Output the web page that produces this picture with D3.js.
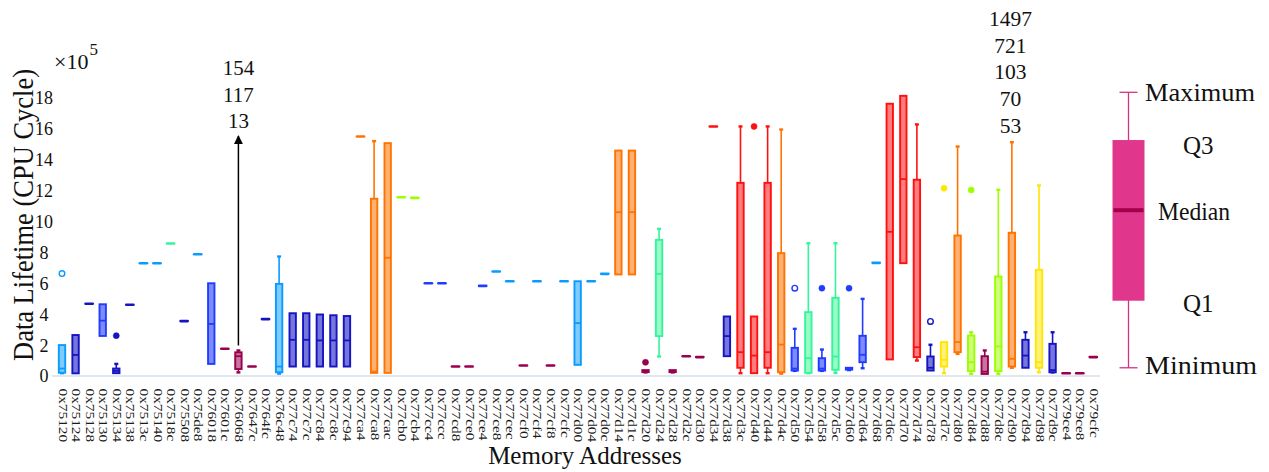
<!DOCTYPE html>
<html>
<head>
<meta charset="utf-8">
<script src="https://cdn.jsdelivr.net/npm/d3@7"></script>
<style>
  html, body { margin: 0; padding: 0; background: #ffffff; }
  svg { display: block; font-family: "Liberation Serif", "Times New Roman", serif; }
</style>
</head>
<body>
<svg id="chart" width="1269" height="472"></svg>
<script>
// Memory addresses (one box per address)
const addresses = [
  "0x75120","0x75124","0x75128","0x75130","0x75134","0x75138","0x7513c","0x75140","0x7518c","0x75508",
  "0x75de8","0x76018","0x7601c","0x76068","0x7647c","0x764fc","0x76c48","0x77c74","0x77c7c","0x77c84",
  "0x77c8c","0x77c94","0x77ca4","0x77ca8","0x77cac","0x77cb0","0x77cb4","0x77cc4","0x77ccc","0x77cd8",
  "0x77ce0","0x77ce4","0x77ce8","0x77cec","0x77cf0","0x77cf4","0x77cf8","0x77cfc","0x77d00","0x77d04",
  "0x77d0c","0x77d14","0x77d1c","0x77d20","0x77d24","0x77d28","0x77d2c","0x77d30","0x77d34","0x77d38",
  "0x77d3c","0x77d40","0x77d44","0x77d4c","0x77d50","0x77d54","0x77d58","0x77d5c","0x77d60","0x77d64",
  "0x77d68","0x77d6c","0x77d70","0x77d74","0x77d78","0x77d7c","0x77d80","0x77d84","0x77d88","0x77d8c",
  "0x77d90","0x77d94","0x77d98","0x77d9c","0x79ce4","0x79ce8","0x79cfc"
];

// Colour group of each address
const colorGroup = [
  "lightblue","navy","navy","blue","navy","navy","lightblue","lightblue","green","navy",
  "lightblue","blue","maroon","maroon","maroon","navy","lightblue","navy","navy","navy",
  "navy","navy","orange","orange","orange","lime","lime","blue","blue","maroon",
  "maroon","blue","lightblue","lightblue","maroon","lightblue","maroon","lightblue","lightblue","lightblue",
  "lightblue","orange","orange","maroon","green","maroon","maroon","maroon","red","navy",
  "red","red","red","orange","blue","green","blue","green","blue","blue",
  "lightblue","red","red","red","navy","yellow","orange","lime","maroon","lime",
  "orange","navy","yellow","navy","maroon","maroon","maroon"
];

// Five-number summaries, in units of 1e5 CPU cycles
const minV = [
  0.15,0.14,4.64,2.56,0.15,4.58,7.27,7.27,8.54,3.52,
  7.85,0.75,1.73,0.2,0.58,3.65,0.12,0.58,0.58,0.58,
  0.58,0.58,15.47,0.17,0.17,11.54,11.5,5.97,5.97,0.58,
  0.58,5.8,6.73,6.1,0.65,6.1,0.65,6.1,0.69,6.1,
  6.58,6.54,6.54,0.2,1.23,0.2,1.25,1.19,16.12,1.25,
  0.15,0.15,0.15,0.12,0.3,0.15,0.3,0.17,0.35,0.47,
  7.29,1.04,7.27,0.97,0.32,0.15,1.4,0.1,0.1,0.1,
  0.5,0.5,0.21,0.2,0.15,0.15,1.19
];
const q1V = [
  0.18,0.14,4.64,2.56,0.15,4.58,7.27,7.27,8.54,3.52,
  7.85,0.75,1.73,0.42,0.58,3.65,0.21,0.58,0.58,0.58,
  0.58,0.58,15.47,0.17,0.17,11.54,11.5,5.97,5.97,0.58,
  0.58,5.8,6.73,6.1,0.65,6.1,0.65,6.1,0.69,6.1,
  6.58,6.54,6.54,0.22,2.55,0.22,1.25,1.19,16.12,1.25,
  0.5,0.15,0.5,0.21,0.32,0.17,0.32,0.37,0.38,0.86,
  7.29,1.04,7.27,1.19,0.32,0.58,1.51,0.28,0.1,0.28,
  0.58,0.5,0.5,0.21,0.15,0.15,1.19
];
const medV = [
  0.45,1.33,4.64,3.55,0.3,4.58,7.27,7.27,8.54,3.52,
  7.85,3.34,1.73,1.25,0.58,3.65,0.58,2.31,2.31,2.27,
  2.27,2.27,15.47,0.25,7.62,11.54,11.5,5.97,5.97,0.58,
  0.58,5.8,6.73,6.1,0.65,6.1,0.65,6.1,3.39,6.1,
  6.58,10.57,10.57,0.28,6.58,0.28,1.25,1.19,16.12,2.55,
  1.51,1.29,1.51,2.0,0.45,1.12,0.45,1.23,0.43,1.34,
  7.29,9.3,12.71,1.83,0.5,1.02,2.16,0.86,0.25,1.88,
  1.08,1.29,0.86,0.35,0.15,0.15,1.19
];
const q3V = [
  1.97,2.62,4.64,4.61,0.45,4.58,7.27,7.27,8.54,3.52,
  7.85,5.97,1.73,1.5,0.58,3.65,5.93,4.03,4.03,3.95,
  3.9,3.85,15.47,11.44,15.04,11.54,11.5,5.97,5.97,0.58,
  0.58,5.8,6.73,6.1,0.65,6.1,0.65,6.1,6.1,6.1,
  6.58,14.56,14.56,0.35,8.78,0.35,1.25,1.19,16.12,3.82,
  12.47,3.82,12.47,7.92,1.79,4.1,1.12,5.03,0.5,2.57,
  7.29,17.59,18.1,12.67,1.23,2.16,9.06,2.59,1.25,6.41,
  9.24,2.31,6.84,2.05,0.15,0.15,1.19
];
const maxV = [
  1.97,2.62,4.64,4.61,0.75,4.58,7.27,7.27,8.54,3.52,
  7.85,5.97,1.73,1.62,0.58,3.65,7.7,4.03,4.03,3.95,
  3.9,3.85,15.47,15.17,15.04,11.54,11.5,5.97,5.97,0.58,
  0.58,5.8,6.73,6.1,0.65,6.1,0.65,6.1,6.1,6.1,
  6.58,14.56,14.56,0.35,9.49,0.35,1.25,1.19,16.12,3.82,
  16.12,3.82,16.12,15.92,3.02,8.56,1.68,8.56,0.5,4.96,
  7.29,17.59,18.1,16.25,1.99,2.16,14.82,2.8,1.62,12.02,
  15.1,2.8,12.3,2.8,0.15,0.15,1.19
];

// Outliers: address index, value (1e5 cycles), filled marker or open ring
const outlierIndex  = [0, 4, 43, 51, 54, 56, 58, 64, 65, 67];
const outlierValue  = [6.6, 2.58, 0.85, 16.12, 5.65, 5.65, 5.65, 3.5, 12.12, 12.0];
const outlierFilled = [false, true, true, true, false, true, true, false, true, true];

const yTicks = [0, 2, 4, 6, 8, 10, 12, 14, 16, 18];

// Access counts printed above two addresses
const countsLeftIndex = 13;
const countsLeft = ["154", "117", "13"];
const countsRightIndex = 70;
const countsRight = ["1497", "721", "103", "70", "53"];

// Key box: sample statistics (same units as the chart) and their names
const legendStats = [0.5, 4.84, 10.7, 15.24, 18.33];
const legendNames = ["Minimum", "Q1", "Median", "Q3", "Maximum"];

const palette = {
  lightblue: { stroke: "#0a9bff", fill: "#7fcaff" },
  navy:      { stroke: "#1414c0", fill: "#7676dc" },
  blue:      { stroke: "#1f3cff", fill: "#7d8bff" },
  green:     { stroke: "#33f59a", fill: "#9afbc9" },
  maroon:    { stroke: "#99004d", fill: "#c9749f" },
  orange:    { stroke: "#ff7300", fill: "#ffb173" },
  red:       { stroke: "#ff1010", fill: "#ff7d7d" },
  yellow:    { stroke: "#ffe500", fill: "#fff27a" },
  lime:      { stroke: "#9cff00", fill: "#ceff7a" }
};

const svg = d3.select("#chart");

const x = d3.scalePoint().domain(addresses).range([62, 1093.3]);
const y = d3.scaleLinear().domain([0, 18]).range([375.5, 97.4]);

const boxW = 6.4;

// baseline
svg.append("line")
  .attr("x1", 52).attr("x2", 1100)
  .attr("y1", y(0) + 0.5).attr("y2", y(0) + 0.5)
  .attr("stroke", "#e1e7ef").attr("stroke-width", 2);

// y axis (labels only)
const yAxis = svg.append("g")
  .attr("transform", "translate(44,0)")
  .call(d3.axisLeft(y).tickValues(yTicks).tickSize(0).tickFormat(d3.format("d")));
yAxis.select(".domain").remove();
yAxis.selectAll("text")
  .attr("x", 0).attr("dy", "0.36em")
  .style("text-anchor", "middle")
  .style("font-family", "Liberation Serif, serif")
  .style("font-size", "18px")
  .attr("fill", "#111");

// exponent
const expo = svg.append("text")
  .attr("x", 54).attr("y", 69)
  .style("font-size", "22px").attr("fill", "#111");
expo.append("tspan").text("\u00d710");
expo.append("tspan").attr("dy", -14).attr("dx", 1).style("font-size", "17px").text("5");

// x axis labels
const xAxis = svg.append("g")
  .attr("transform", `translate(0,${y(0)})`)
  .call(d3.axisBottom(x).tickSize(0));
xAxis.select(".domain").remove();
xAxis.selectAll("text")
  .attr("x", 0).attr("y", 0).attr("dy", "0.33em")
  .attr("transform", "translate(0,13) rotate(90) scale(1.28,1)")
  .style("text-anchor", "start")
  .style("font-family", "Liberation Serif, serif")
  .style("font-size", "12px")
  .attr("fill", "#1a1a1a");

// axis titles
svg.append("text")
  .attr("transform", "translate(33,215) rotate(-90)")
  .attr("text-anchor", "middle")
  .attr("textLength", 292).attr("lengthAdjust", "spacingAndGlyphs")
  .style("font-size", "30px").attr("fill", "#111")
  .text("Data Lifetime (CPU Cycle)");

svg.append("text")
  .attr("x", 585).attr("y", 464)
  .attr("text-anchor", "middle")
  .style("font-size", "25px").attr("fill", "#111")
  .text("Memory Addresses");

// boxes
const stats = addresses.map((a, i) => ({
  a, i, min: minV[i], q1: q1V[i], med: medV[i], q3: q3V[i], max: maxV[i],
  c: palette[colorGroup[i]]
}));

const g = svg.append("g");
const items = g.selectAll("g.box").data(stats).join("g").attr("class", "box")
  .attr("transform", d => `translate(${x(d.a)},0)`);

// whiskers
items.filter(d => d.max > d.q3).append("line")
  .attr("x1", 0).attr("x2", 0).attr("y1", d => y(d.q3)).attr("y2", d => y(d.max))
  .attr("stroke", d => d.c.stroke).attr("stroke-width", 1.6);
items.filter(d => d.min < d.q1).append("line")
  .attr("x1", 0).attr("x2", 0).attr("y1", d => y(d.q1)).attr("y2", d => y(d.min))
  .attr("stroke", d => d.c.stroke).attr("stroke-width", 1.6);
// whisker caps
items.filter(d => d.max > d.q3).append("line")
  .attr("x1", -2).attr("x2", 2).attr("y1", d => y(d.max)).attr("y2", d => y(d.max))
  .attr("stroke", d => d.c.stroke).attr("stroke-width", 2.4);
items.filter(d => d.min < d.q1).append("line")
  .attr("x1", -2).attr("x2", 2).attr("y1", d => y(d.min)).attr("y2", d => y(d.min))
  .attr("stroke", d => d.c.stroke).attr("stroke-width", 2.4);

// box body
items.filter(d => d.q3 > d.q1).append("rect")
  .attr("x", -boxW / 2).attr("width", boxW)
  .attr("y", d => y(d.q3)).attr("height", d => y(d.q1) - y(d.q3))
  .attr("fill", d => d.c.fill)
  .attr("stroke", d => d.c.stroke).attr("stroke-width", 1.9);

// median (single-valued addresses show as a short bar)
items.append("line")
  .attr("x1", d => d.q3 > d.q1 ? -boxW / 2 : -3.6)
  .attr("x2", d => d.q3 > d.q1 ? boxW / 2 : 3.6)
  .attr("y1", d => y(d.med)).attr("y2", d => y(d.med))
  .attr("stroke", d => d.c.stroke)
  .attr("stroke-width", d => d.q3 > d.q1 ? 1.8 : 2.6)
  .attr("stroke-linecap", d => d.q3 > d.q1 ? "butt" : "round");

// outliers
const outliers = outlierIndex.map((idx, k) => ({
  a: addresses[idx], v: outlierValue[k], filled: outlierFilled[k], c: palette[colorGroup[idx]]
}));
g.selectAll("circle.out").data(outliers).join("circle").attr("class", "out")
  .attr("cx", d => x(d.a)).attr("cy", d => y(d.v))
  .attr("r", d => d.filled ? 3 : 2.8)
  .attr("fill", d => d.filled ? d.c.stroke : "#ffffff")
  .attr("stroke", d => d.c.stroke).attr("stroke-width", d => d.filled ? 0.6 : 1.4);

// arrow with access counts
svg.append("defs").append("marker")
  .attr("id", "arrowHead").attr("viewBox", "0 0 10 10")
  .attr("refX", 9).attr("refY", 5)
  .attr("markerWidth", 6).attr("markerHeight", 6)
  .attr("markerUnits", "strokeWidth")
  .attr("orient", "auto")
  .append("path").attr("d", "M0,0 L10,5 L0,10 z").attr("fill", "#000");

const ax = x(addresses[countsLeftIndex]);
svg.append("line")
  .attr("x1", ax).attr("x2", ax)
  .attr("y1", y(maxV[countsLeftIndex]) - 5).attr("y2", 136)
  .attr("stroke", "#000").attr("stroke-width", 1.5)
  .attr("marker-end", "url(#arrowHead)");

svg.selectAll("text.cl").data(countsLeft).join("text").attr("class", "cl")
  .attr("x", ax).attr("y", (d, i) => 75 + i * 26.5)
  .attr("text-anchor", "middle")
  .style("font-size", "21px").attr("fill", "#111")
  .text(d => d);

const bx = x(addresses[countsRightIndex]) - 1.5;
svg.selectAll("text.cr").data(countsRight).join("text").attr("class", "cr")
  .attr("x", bx).attr("y", (d, i) => 26 + i * 26.7)
  .attr("text-anchor", "middle")
  .style("font-size", "21.5px").attr("fill", "#111")
  .text(d => d);

// key box explaining the five-number summary
const lx = 1128.5, lw = 32;
const key = svg.append("g");
key.append("line")
  .attr("x1", lx).attr("x2", lx).attr("y1", y(legendStats[4])).attr("y2", y(legendStats[0]))
  .attr("stroke", "#d2357f").attr("stroke-width", 1.3);
[legendStats[0], legendStats[4]].forEach(v => {
  key.append("line")
    .attr("x1", lx - 9).attr("x2", lx + 9).attr("y1", y(v)).attr("y2", y(v))
    .attr("stroke", "#d2357f").attr("stroke-width", 1.3);
});
key.append("rect")
  .attr("x", lx - lw / 2).attr("width", lw)
  .attr("y", y(legendStats[3])).attr("height", y(legendStats[1]) - y(legendStats[3]))
  .attr("fill", "#e0368b");
key.append("line")
  .attr("x1", lx - lw / 2 + 1).attr("x2", lx + lw / 2 - 1)
  .attr("y1", y(legendStats[2])).attr("y2", y(legendStats[2]))
  .attr("stroke", "#a3004c").attr("stroke-width", 4);

const keyLabelX = [1145, 1183, 1158, 1183, 1145];
const keyLabelDy = [6, 11, 10, 14, 9];
const keyLabelLen = [112, 0, 72, 0, 110];
legendNames.forEach((name, k) => {
  const t = key.append("text")
    .attr("x", keyLabelX[k])
    .attr("y", y(legendStats[k]) + keyLabelDy[k])
    .style("font-size", "25px").attr("fill", "#111")
    .text(name);
  if (keyLabelLen[k]) t.attr("textLength", keyLabelLen[k]).attr("lengthAdjust", "spacingAndGlyphs");
});
</script>
</body>
</html>
